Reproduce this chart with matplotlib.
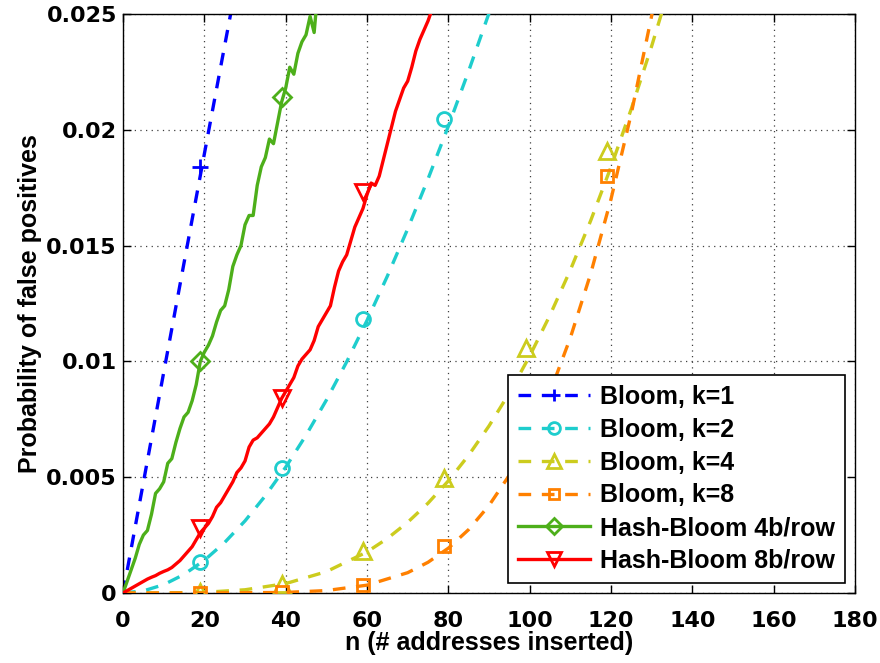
import matplotlib
matplotlib.use("Agg")
import matplotlib.pyplot as plt
from matplotlib.lines import Line2D

plt.rcParams['font.family'] = ['Liberation Sans', 'DejaVu Sans']
plt.rcParams['font.weight'] = 'bold'
plt.rcParams['axes.labelweight'] = 'bold'

# ---- data ----
n_k1 = [0, 5, 10, 15, 20, 25, 30]
p_k1 = [0, 0.00477, 0.00952, 0.01425, 0.01896, 0.02364, 0.02829]

n_k2 = [0, 5, 10, 15, 20, 25, 30, 35, 40, 45, 50, 55, 60, 65, 70, 75, 80, 85, 90, 95]
p_k2 = [0, 0.0000907, 0.000359, 0.000801, 0.001411, 0.002183, 0.003113, 0.004199,
        0.005432, 0.006810, 0.008328, 0.009980, 0.011768, 0.013682, 0.015720,
        0.017878, 0.020155, 0.022542, 0.025037, 0.02764]

n_k4 = [0, 10, 20, 30, 40, 50, 60, 65, 70, 75, 80, 85, 90, 95, 100, 105, 110, 115,
        120, 125, 130, 135, 140]
p_k4 = [0, 0.000002, 0.0000295, 0.000139, 0.000406, 0.000921, 0.001773, 0.002354,
        0.003052, 0.003878, 0.004841, 0.005950, 0.007213, 0.008638, 0.010231,
        0.011998, 0.013945, 0.016077, 0.018398, 0.020911, 0.023617, 0.026519, 0.029619]

n_k8 = [0, 20, 40, 50, 60, 70, 75, 80, 85, 90, 95, 100, 105, 110, 115, 120, 125, 130, 135]
p_k8 = [0, 0.0000002, 0.0000234, 0.000105, 0.000338, 0.000877, 0.001326, 0.001935,
        0.002740, 0.003778, 0.005086, 0.006704, 0.008669, 0.011018, 0.013787,
        0.017009, 0.020714, 0.024929, 0.029673]

n_h4 = list(range(0, 50))
p_h4 = [0.0000, 0.0005, 0.0010, 0.0015, 0.0021, 0.0025, 0.0027, 0.0034, 0.0043, 0.0045,
        0.0048, 0.0056, 0.0058, 0.0065, 0.0071, 0.0076, 0.0078, 0.0083, 0.0090, 0.0100,
        0.0104, 0.0107, 0.0111, 0.0117, 0.0122, 0.0124, 0.0131, 0.0141, 0.0146, 0.0150,
        0.0159, 0.0163, 0.0163, 0.0176, 0.0184, 0.0188, 0.0196, 0.0194, 0.0203, 0.0212,
        0.0218, 0.0227, 0.0224, 0.0233, 0.0238, 0.0241, 0.0249, 0.0242, 0.0262, 0.0270]

n_h8 = list(range(0, 78))
p_h8 = [0, 0.0001, 0.0002, 0.0003, 0.0004, 0.0005, 0.0006, 0.00068, 0.00075, 0.00085,
        0.00093, 0.0010, 0.0011, 0.00125, 0.0014, 0.0016, 0.0018, 0.0020, 0.0023, 0.0026,
        0.0028, 0.0030, 0.0033, 0.0037, 0.0039, 0.0042, 0.0045, 0.0048, 0.0052, 0.0054,
        0.0057, 0.0063, 0.0066, 0.0067, 0.0069, 0.0071, 0.0073, 0.0076, 0.0080, 0.0084,
        0.0087, 0.0090, 0.0093, 0.0098, 0.0101, 0.0103, 0.0105, 0.0109, 0.0115, 0.0118,
        0.0121, 0.0124, 0.0132, 0.0139, 0.0143, 0.0146, 0.0152, 0.0158, 0.0162, 0.0166,
        0.0172, 0.0177, 0.0176, 0.0180, 0.0187, 0.0194, 0.0201, 0.0208, 0.0213, 0.0218,
        0.0221, 0.0227, 0.0234, 0.0239, 0.0243, 0.0247, 0.0252, 0.0260]

# marker positions
m_k1_n = [19]
m_k1_p = [0.01838]
m_k2_n = [19, 39, 59, 79]
m_k2_p = [0.001327, 0.005379, 0.01184, 0.02045]
m_k4_n = [19, 39, 59, 79, 99, 119]
m_k4_p = [0.0000262, 0.000399, 0.001795, 0.004970, 0.010580, 0.01909]
m_k8_n = [19, 39, 59, 79, 99, 119]
m_k8_p = [0.00000013, 0.0000227, 0.000345, 0.002024, 0.007079, 0.01801]
m_h4_n = [19, 39]
m_h4_p = [0.0100, 0.0214]
m_h8_n = [19, 39, 59]
m_h8_p = [0.0028, 0.0084, 0.0173]

labels = ['Bloom, k=1', 'Bloom, k=2', 'Bloom, k=4', 'Bloom, k=8',
          'Hash-Bloom 4b/row', 'Hash-Bloom 8b/row']
x_ticks = [0, 20, 40, 60, 80, 100, 120, 140, 160, 180]
y_ticks = [0, 0.005, 0.01, 0.015, 0.02, 0.025]
y_ticklabels = ['0', '0.005', '0.01', '0.015', '0.02', '0.025']

# ---- styles ----
colors = ['#0000FF', '#1ECDCD', '#CCCC1E', '#FF8000', '#4DAF1A', '#FF0000']
markers = ['+', 'o', '^', 's', 'D', 'v']
msizes = [11, 10, 12, 8.5, 9, 12]
lw = 2.4
dash = (0, (3.8, 3.2))

series = [
    (n_k1, p_k1, m_k1_n, m_k1_p, dash),
    (n_k2, p_k2, m_k2_n, m_k2_p, dash),
    (n_k4, p_k4, m_k4_n, m_k4_p, dash),
    (n_k8, p_k8, m_k8_n, m_k8_p, dash),
    (n_h4, p_h4, m_h4_n, m_h4_p, '-'),
    (n_h8, p_h8, m_h8_n, m_h8_p, '-'),
]

fig = plt.figure(figsize=(8.8, 6.63), dpi=100)
ax = fig.add_axes([0.1398, 0.1056, 0.9716 - 0.1398, 0.9789 - 0.1056])

handles = []
for i, (xn, yp, mn, mp, ls) in enumerate(series):
    ax.plot(xn, yp, linestyle=ls, color=colors[i], lw=lw, zorder=2 + i)
    ax.plot(mn, mp, linestyle='none', marker=markers[i], ms=msizes[i],
            mfc='none', mec=colors[i], mew=2.0, zorder=2 + i, clip_on=True)
    handles.append(Line2D([], [], linestyle=ls, color=colors[i], lw=lw,
                          marker=markers[i], ms=msizes[i] * 0.85, mfc='none',
                          mec=colors[i], mew=2.0))

ax.set_xlim(0, 180)
ax.set_ylim(0, 0.025)
ax.set_xticks(x_ticks)
ax.set_yticks(y_ticks)
ax.set_yticklabels(y_ticklabels)
ax.tick_params(direction='in', length=6, width=1, top=True, right=True,
               labelsize=16, pad=4.5)
ax.tick_params(axis='x', pad=13)
for lab in ax.get_xticklabels() + ax.get_yticklabels():
    lab.set_fontweight('bold')
    lab.set_family(['DejaVu Sans'])
for s in ax.spines.values():
    s.set_linewidth(1.0)
ax.grid(True, linestyle=(0, (1, 3.5)), color='0.25', lw=0.9)
ax.set_axisbelow(True)

ax.set_xlabel('n (# addresses inserted)', fontsize=18, fontweight='bold', labelpad=0)
ax.set_ylabel('Probability of false positives', fontsize=18, fontweight='bold', labelpad=3)

leg = ax.legend(handles, labels, loc='lower right',
                prop={'weight': 'bold', 'size': 18},
                frameon=True, fancybox=False, framealpha=1, edgecolor='black',
                handlelength=2.9, handletextpad=0.4, labelspacing=0.35,
                borderpad=0.4, borderaxespad=0.4)
leg.get_frame().set_linewidth(1.2)
leg.set_zorder(20)

fig.savefig('out.png', dpi=100)
